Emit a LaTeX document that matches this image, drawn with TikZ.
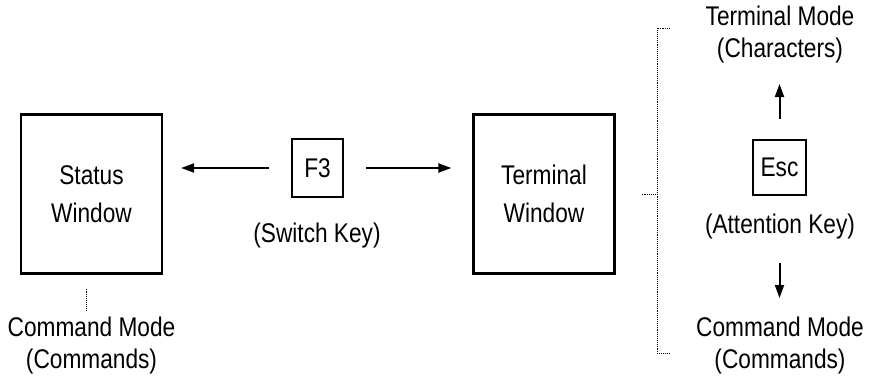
\documentclass[tikz,border=0pt]{standalone}
\usepackage{fontspec}
\setmainfont[FakeStretch=0.84]{Liberation Sans}
\usetikzlibrary{arrows.meta}
\begin{document}
\begin{tikzpicture}[x=1pt,y=-1pt,
  winbox/.style={draw,line width=2.2pt,minimum width=141pt,minimum height=159pt,
    inner sep=0pt,align=center,font=\fontsize{27}{38}\selectfont},
  keybox/.style={draw,line width=2pt,minimum width=51pt,minimum height=58pt,
    inner sep=0pt,font=\fontsize{27}{30}\selectfont},
  lbl/.style={inner sep=0pt,align=center,font=\fontsize{27}{32}\selectfont},
  arr/.style={line width=2pt,-{Triangle[length=13pt,width=9pt]}},
  dots/.style={densely dotted,line width=0.9pt}]
\useasboundingbox (0,0) rectangle (870,383);
\node[winbox] (status) at (91.5,194) {Status\\Window};
\node[winbox] (terminal) at (544,194) {Terminal\\Window};
\node[keybox] (f3) at (317.5,168) {F3};
\node[lbl] (switch) at (317,236) {(Switch Key)};
\node[keybox,minimum width=53pt,minimum height=55pt] (esc) at (779.5,167.5) {Esc};
\node[lbl] (attn) at (780,227) {(Attention Key)};
\node[lbl] (termmode) at (780,35) {Terminal Mode\\(Characters)};
\node[lbl] (cmdright) at (780,346) {Command Mode\\(Commands)};
\node[lbl] (cmdleft) at (91.5,346) {Command Mode\\(Commands)};
% switch key
\draw[arr,shorten <=22pt,shorten >=18pt] (f3.west) -- (f3.west -| status.east);
\draw[arr,shorten <=22pt,shorten >=21pt] (f3.east) -- (f3.east -| terminal.west);
% attention key
\draw[arr] ([yshift=20pt]esc.north) -- ++(0,-35);
\draw[arr] ([yshift=-67pt]esc.south) -- ++(0,35);
% modes
\coordinate (bt) at (657,28);
\coordinate (bb) at (657,353);
\draw[dots] ([xshift=13pt]bt) -- (bt) -- (bb) -- ([xshift=13pt]bb);
\draw[dots] ([xshift=26pt]terminal.east) -- (terminal.east -| bt);
\draw[dots] ([shift={(-5pt,-14pt)}]status.south) -- ++(0,22);
\end{tikzpicture}
\end{document}
